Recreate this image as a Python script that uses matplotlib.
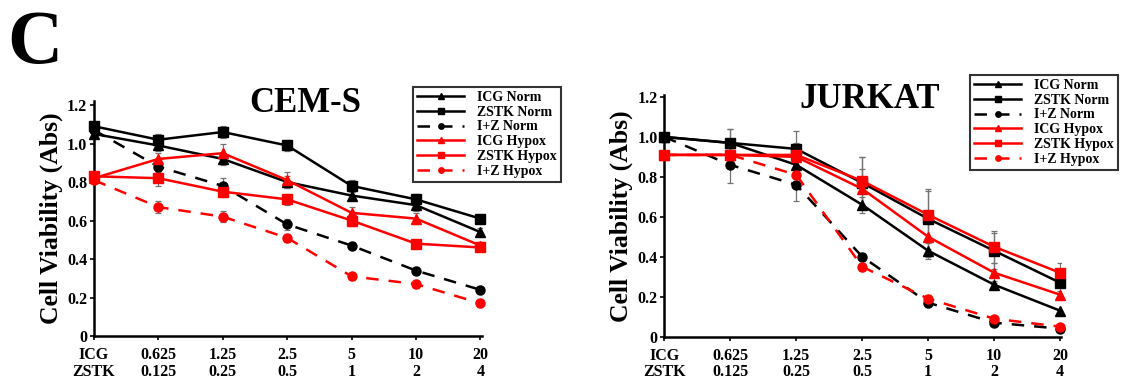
import matplotlib
matplotlib.use("Agg")
import matplotlib.pyplot as plt
import numpy as np

plt.rcParams['font.family'] = ['Liberation Serif', 'DejaVu Serif']
plt.rcParams['font.weight'] = 'bold'

# dose labels (ICG uM / ZSTK uM)
icg_doses = ["ICG", "0.625", "1.25", "2.5", "5", "10", "20"]
zstk_doses = ["ZSTK", "0.125", "0.25", "0.5", "1", "2", "4"]
series_names = ["ICG Norm", "ZSTK Norm", "I+Z Norm", "ICG Hypox", "ZSTK Hypox", "I+Z Hypox"]

# CEM-S
cems_icg_norm = [1.05, 0.99, 0.92, 0.80, 0.73, 0.68, 0.54]
cems_zstk_norm = [1.09, 1.02, 1.06, 0.99, 0.78, 0.71, 0.61]
cems_iz_norm = [1.07, 0.88, 0.78, 0.58, 0.47, 0.34, 0.24]
cems_icg_hyp = [0.82, 0.92, 0.95, 0.81, 0.64, 0.61, 0.47]
cems_zstk_hyp = [0.83, 0.82, 0.75, 0.71, 0.60, 0.48, 0.46]
cems_iz_hyp = [0.81, 0.67, 0.62, 0.51, 0.31, 0.27, 0.17]
cems_err = [
    [0.02, 0.03, 0.03, 0.03, 0.02, 0.03, 0.02],
    [0.02, 0.03, 0.03, 0.03, 0.03, 0.03, 0.02],
    [0.02, 0.03, 0.04, 0.03, 0.02, 0.02, 0.02],
    [0.02, 0.03, 0.05, 0.04, 0.03, 0.03, 0.02],
    [0.02, 0.04, 0.03, 0.03, 0.03, 0.02, 0.02],
    [0.02, 0.03, 0.03, 0.02, 0.02, 0.02, 0.02],
]

# JURKAT
jur_icg_norm = [1.00, 0.97, 0.86, 0.66, 0.43, 0.26, 0.13]
jur_zstk_norm = [1.00, 0.97, 0.94, 0.77, 0.59, 0.43, 0.27]
jur_iz_norm = [1.00, 0.86, 0.76, 0.40, 0.17, 0.07, 0.04]
jur_icg_hyp = [0.91, 0.91, 0.90, 0.74, 0.50, 0.32, 0.21]
jur_zstk_hyp = [0.91, 0.91, 0.91, 0.78, 0.61, 0.45, 0.32]
jur_iz_hyp = [0.91, 0.91, 0.81, 0.35, 0.19, 0.09, 0.05]
jur_err = [
    [0.01, 0.07, 0.09, 0.04, 0.04, 0.02, 0.01],
    [0.01, 0.07, 0.09, 0.13, 0.15, 0.09, 0.05],
    [0.01, 0.09, 0.08, 0.02, 0.02, 0.01, 0.01],
    [0.01, 0.05, 0.07, 0.10, 0.10, 0.05, 0.02],
    [0.01, 0.05, 0.05, 0.12, 0.12, 0.08, 0.05],
    [0.01, 0.04, 0.03, 0.02, 0.02, 0.01, 0.01],
]

styles = [
    dict(color='black', marker='^', ls='-', ms=6.5),
    dict(color='black', marker='s', ls='-', ms=7),
    dict(color='black', marker='o', ls=(0, (5, 4)), ms=6.5),
    dict(color='red', marker='^', ls='-', ms=6.5),
    dict(color='red', marker='s', ls='-', ms=7),
    dict(color='red', marker='o', ls=(0, (5, 4)), ms=6.5),
]

fig = plt.figure(figsize=(11.28, 3.83), dpi=100)
fig.text(0.006, 0.975, "C", fontsize=55, fontweight='bold', va='top', ha='left')


def panel(rect, data, errs, title, title_xy, ylim_top, leg_anchor):
    ax = fig.add_axes(rect)
    x = np.arange(len(icg_doses))
    handles = []
    for vals, err in zip(data, errs):
        ax.errorbar(x, vals, yerr=err, fmt='none', ecolor='0.45', elinewidth=0.9,
                    capsize=2.5, capthick=0.9, zorder=2)
    for vals, name, st in zip(data, series_names, styles):
        h, = ax.plot(x, vals, color=st['color'], marker=st['marker'], ls=st['ls'],
                     ms=st['ms'], lw=1.8, label=name, zorder=3, clip_on=False)
        handles.append(h)
    ax.set_xlim(0, 6.02)
    ax.set_ylim(0, ylim_top)
    ax.set_yticks([0, 0.2, 0.4, 0.6, 0.8, 1.0, 1.2])
    ax.set_yticklabels(["0", "0.2", "0.4", "0.6", "0.8", "1.0", "1.2"])
    ax.set_xticks(x)
    ax.set_xticklabels([f"{a}\n{b}" for a, b in zip(icg_doses, zstk_doses)],
                       linespacing=1.05)
    ax.tick_params(axis='both', labelsize=11.5, width=1.2, length=3)
    ax.tick_params(axis='x', pad=5)
    ax.tick_params(axis='y', pad=2)
    for lab in ax.get_xticklabels() + ax.get_yticklabels():
        lab.set_fontweight('bold')
    for s in ['top', 'right']:
        ax.spines[s].set_visible(False)
    for s in ['left', 'bottom']:
        ax.spines[s].set_linewidth(1.8)
    ax.set_ylabel("Cell Viability (Abs)", fontsize=18.5, fontweight='bold', labelpad=3)
    fig.text(title_xy[0], title_xy[1], title, fontsize=25, fontweight='bold',
             ha='center', va='center')
    leg = fig.legend(handles=handles, loc='upper left', bbox_to_anchor=leg_anchor,
                     frameon=True, fancybox=False, edgecolor='black',
                     handlelength=3.4, handletextpad=0.9, labelspacing=0.12,
                     borderpad=0.3, borderaxespad=0, markerscale=0.6,
                     prop=dict(weight='bold', size=10))
    leg.get_frame().set_linewidth(1.5)
    return ax


cems_data = [cems_icg_norm, cems_zstk_norm, cems_iz_norm, cems_icg_hyp, cems_zstk_hyp, cems_iz_hyp]
jur_data = [jur_icg_norm, jur_zstk_norm, jur_iz_norm, jur_icg_hyp, jur_zstk_hyp, jur_iz_hyp]

panel([0.0833, 0.1227, 0.3437, 0.613], cems_data, cems_err, "CEM-S",
      (305 / 1128, 1 - 103 / 383), 1.22, (413 / 1128, 1 - 87 / 383))
panel([0.589, 0.121, 0.352, 0.631], jur_data, jur_err, "JURKAT",
      (870 / 1128, 1 - 100 / 383), 1.21, (970 / 1128, 1 - 75 / 383))

fig.savefig("out.png", dpi=100)
